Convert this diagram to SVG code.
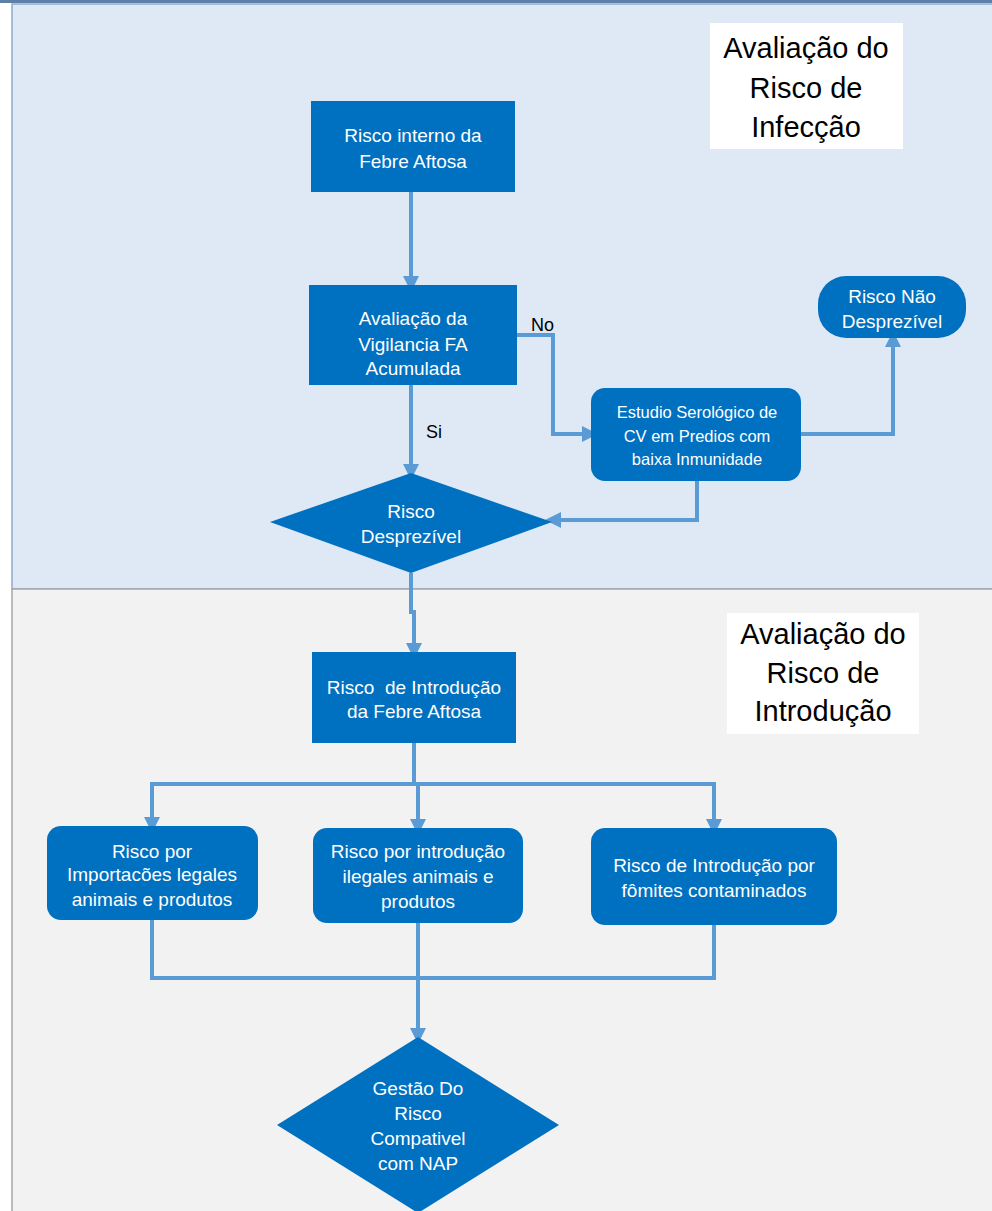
<svg xmlns="http://www.w3.org/2000/svg" width="992" height="1211" viewBox="0 0 992 1211">
<defs>
<style>
.node{fill:#0070C0;}
.t{font-family:"Liberation Sans",Arial,sans-serif;font-size:19px;fill:#FFFFFF;text-anchor:middle;}
.ts{font-family:"Liberation Sans",Arial,sans-serif;font-size:16.5px;fill:#FFFFFF;text-anchor:middle;}
.title{font-family:"Liberation Sans",Arial,sans-serif;font-size:29px;fill:#000000;text-anchor:middle;}
.lbl{font-family:"Liberation Sans",Arial,sans-serif;font-size:18px;fill:#000000;}
.c{fill:none;stroke:#5B9BD5;stroke-width:4;}
.ca{fill:none;stroke:#5B9BD5;stroke-width:4;marker-end:url(#ah);}
</style>
<marker id="ah" markerWidth="4" markerHeight="4" refX="2" refY="2" orient="auto" markerUnits="strokeWidth" viewBox="0 0 4 4">
<path d="M0,0 L4,2 L0,4 z" fill="#5B9BD5"/>
</marker>
</defs>
<rect x="0" y="0" width="992" height="1211" fill="#FFFFFF"/>
<g id="panels">
<rect x="12" y="4" width="985" height="585" fill="#DEE9F5" stroke="#8EAACB" stroke-width="1.5"/>
<rect x="12" y="589" width="985" height="630" fill="#F2F2F2" stroke="#A6A6A6" stroke-width="1.5"/>
<rect x="0" y="0" width="992" height="3" fill="#5E80A8"/>
</g>
<g id="title-infeccao">
<rect x="710" y="23" width="193" height="126" fill="#FFFFFF"/>
<text class="title" x="806" y="58">Avaliação do</text>
<text class="title" x="806" y="98">Risco de</text>
<text class="title" x="806" y="137">Infecção</text>
</g>
<g id="title-introducao">
<rect x="727" y="613" width="192" height="121" fill="#FFFFFF"/>
<text class="title" x="823" y="644">Avaliação do</text>
<text class="title" x="823" y="683">Risco de</text>
<text class="title" x="823" y="721">Introdução</text>
</g>
<g id="connectors">
<path class="ca" d="M411,192 V284"/>
<path class="ca" d="M411,385 V472"/>
<path class="ca" d="M517,335 H553 V434 H590"/>
<path class="ca" d="M801,434 H893 V339"/>
<path class="ca" d="M697,481 V520 H553"/>
<path class="ca" d="M411,573 V612 H414 V651"/>
<path class="c" d="M414,743 V784"/>
<path class="c" d="M152,784 H714"/>
<path class="ca" d="M152,782 V825"/>
<path class="ca" d="M418,782 V827"/>
<path class="ca" d="M714,782 V827"/>
<path class="c" d="M152,920 V978 H714 V925"/>
<path class="c" d="M418,923 V978"/>
<path class="ca" d="M418,976 V1036"/>
<text class="lbl" x="531" y="331">No</text>
<text class="lbl" x="426" y="438">Si</text>
</g>
<g id="n1">
<rect class="node" x="311" y="101" width="204" height="91"/>
<text class="t" x="413" y="142">Risco interno da</text>
<text class="t" x="413" y="168">Febre Aftosa</text>
</g>
<g id="n2">
<rect class="node" x="309" y="285" width="208" height="100"/>
<text class="t" x="413" y="325">Avaliação da</text>
<text class="t" x="413" y="351">Vigilancia FA</text>
<text class="t" x="413" y="375">Acumulada</text>
</g>
<g id="n3">
<rect class="node" x="591" y="388" width="210" height="93" rx="14"/>
<text class="ts" x="697" y="418">Estudio Serológico de</text>
<text class="ts" x="697" y="442">CV em Predios com</text>
<text class="ts" x="697" y="465">baixa Inmunidade</text>
</g>
<g id="n4">
<rect class="node" x="818" y="276" width="148" height="62" rx="28"/>
<text class="t" x="892" y="303">Risco Não</text>
<text class="t" x="892" y="328">Desprezível</text>
</g>
<g id="n5">
<polygon class="node" points="411,473 552,522 411,573 270,522"/>
<text class="t" x="411" y="518">Risco</text>
<text class="t" x="411" y="543">Desprezível</text>
</g>
<g id="n6">
<rect class="node" x="312" y="652" width="204" height="91"/>
<text class="t" x="414" y="694" xml:space="preserve">Risco  de Introdução</text>
<text class="t" x="414" y="718">da Febre Aftosa</text>
</g>
<g id="n7">
<rect class="node" x="47" y="826" width="211" height="94" rx="14"/>
<text class="t" x="152" y="858">Risco por</text>
<text class="t" x="152" y="881">Importacões legales</text>
<text class="t" x="152" y="906">animais e produtos</text>
</g>
<g id="n8">
<rect class="node" x="313" y="828" width="210" height="95" rx="14"/>
<text class="t" x="418" y="858">Risco por introdução</text>
<text class="t" x="418" y="883">ilegales animais e</text>
<text class="t" x="418" y="908">produtos</text>
</g>
<g id="n9">
<rect class="node" x="591" y="828" width="246" height="97" rx="14"/>
<text class="t" x="714" y="872">Risco de Introdução por</text>
<text class="t" x="714" y="897">fômites contaminados</text>
</g>
<g id="n10">
<polygon class="node" points="418,1037 559,1125 418,1213 277,1125"/>
<text class="t" x="418" y="1095">Gestão Do</text>
<text class="t" x="418" y="1120">Risco</text>
<text class="t" x="418" y="1145">Compativel</text>
<text class="t" x="418" y="1170">com NAP</text>
</g>
</svg>
